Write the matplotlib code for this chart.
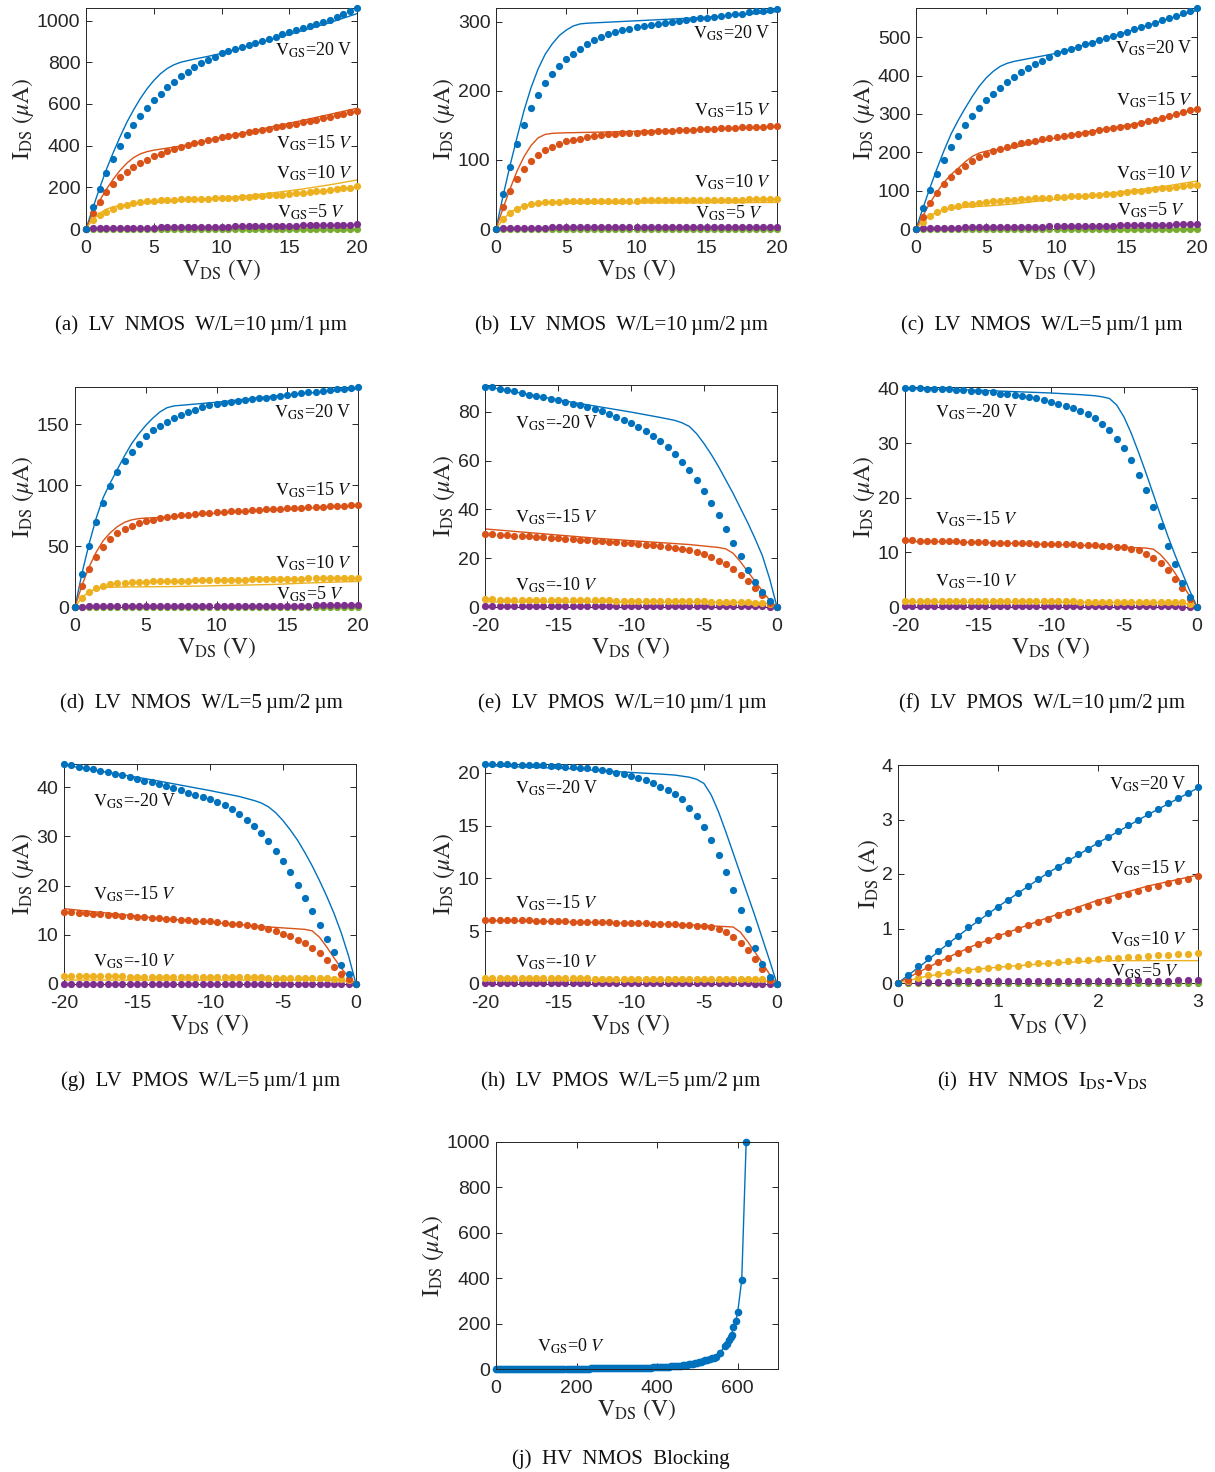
import numpy as np
import matplotlib
matplotlib.use("Agg")
import matplotlib.pyplot as plt

plt.rcParams["font.family"] = "Liberation Sans"
plt.rcParams["mathtext.fontset"] = "stix"
plt.rcParams["axes.unicode_minus"] = False

# Colores por defecto de MATLAB
AZUL = "#0072BD"
NARANJA = "#D95319"
AMARILLO = "#EDB120"
MORADO = "#7E2F8E"
VERDE = "#77AC30"

# ---------------- barridos de VDS ----------------
vds_n = np.arange(0, 20.5, 0.5)          # NMOS LV, medidas
vds_p = np.arange(-20, 0.5, 0.5)         # PMOS LV, medidas
vds_hv = np.round(np.arange(0, 3.05, 0.1), 1)
sim_n = [0, 0.5, 1, 1.5, 2, 2.5, 3, 3.5, 4, 4.5, 5, 5.5, 6, 6.5, 7, 8, 9, 10, 12, 14, 16, 18, 20]
sim_p = [-20, -18, -16, -14, -12, -10, -8, -7, -6.5, -6, -5.5, -5, -4.5, -4, -3.5, -3, -2.5, -2, -1.5, -1, -0.5, 0]
sim_hv = [0, 0.25, 0.5, 0.75, 1, 1.5, 2, 2.5, 3]

# ---------------- (a) LV NMOS 10/1 ----------------
a_med_20 = [0, 105, 192, 268, 335, 396, 449, 498, 541, 580, 617, 649, 679, 706, 732, 754, 776, 794, 812, 827, 843,
            853, 863, 873, 883, 893, 903, 913, 923, 933, 943, 953, 963, 973, 983, 993, 1003, 1016, 1030, 1044, 1058]
a_med_15 = [0, 77, 128, 176, 217, 248, 273, 296, 316, 332, 348, 361, 372, 383, 395, 403, 411, 418, 426, 433, 440,
            446, 452, 458, 464, 470, 476, 482, 488, 494, 500, 506, 512, 518, 524, 531, 538, 545, 552, 559, 567]
a_med_10 = [0, 42, 65, 83, 96, 108, 116, 123, 128, 132, 136, 138, 140, 141, 142, 143, 144, 145, 146, 147, 148,
            150, 151, 153, 155, 157, 159, 161, 163, 165, 168, 171, 174, 177, 180, 183, 187, 191, 195, 199, 204]
a_med_5 = [0, 3, 4, 5, 5, 6, 6, 6, 7, 7, 7, 8, 8, 8, 9, 9, 9, 10, 10, 10, 11,
           11, 12, 12, 13, 13, 14, 14, 15, 15, 16, 16, 17, 17, 18, 18, 19, 20, 20, 21, 22]
a_med_0 = [0.0] * 41
a_sim_20 = [0, 100, 195, 285, 365, 440, 510, 570, 625, 672, 712, 745, 770, 788, 800, 815, 828, 842, 878, 915, 952, 990, 1033]
a_sim_15 = [0, 75, 135, 190, 238, 280, 315, 342, 360, 371, 378, 383, 388, 393, 398, 410, 425, 440, 466, 494, 521, 550, 579]
a_sim_10 = [0, 45, 75, 95, 106, 113, 117, 120, 123, 125, 127, 129, 131, 133, 135, 139, 143, 148, 160, 175, 192, 212, 235]

# ---------------- (b) LV NMOS 10/2 ----------------
b_med_20 = [0, 50, 90, 123, 151, 175, 194, 211, 224, 236, 246, 254, 261, 268, 274, 278, 282, 285, 288, 290, 293,
            294.5, 296, 297, 298.5, 300, 301, 302, 303.5, 305, 306, 307, 308.5, 310, 311, 312, 313.5, 315, 316, 317.5, 319]
b_med_15 = [0, 32, 55, 73, 87, 98, 107, 114, 119, 123, 127, 129, 131, 133, 134, 136, 137, 137.7, 138.3, 139, 139.5,
            140, 140.6, 141.2, 141.8, 142.3, 142.8, 143.3, 143.8, 144.3, 144.8, 145.3, 145.8, 146.3, 146.8, 147.2,
            147.6, 148, 148.4, 148.8, 149.2]
b_med_10 = [0, 14, 23, 29, 33, 36, 37.5, 38.5, 39.5, 39.8, 40, 40.2, 40.4, 40.5, 40.6, 40.7, 40.8, 40.9, 41, 41.1,
            41.2, 41.3, 41.4, 41.5, 41.6, 41.7, 41.8, 41.9, 42, 42.1, 42.2, 42.3, 42.4, 42.5, 42.6, 42.7, 42.8,
            42.9, 43, 43.1, 43.2]
b_med_5 = [0, 1.5, 1.8, 2.0, 2.0, 2.1, 2.1, 2.1, 2.2, 2.2, 2.2, 2.2, 2.3, 2.3, 2.3, 2.3, 2.3, 2.4, 2.4, 2.4, 2.4,
           2.4, 2.5, 2.5, 2.5, 2.5, 2.5, 2.6, 2.6, 2.6, 2.6, 2.6, 2.7, 2.7, 2.7, 2.7, 2.7, 2.8, 2.8, 2.8, 2.8]
b_med_0 = [0.0] * 41
b_sim_20 = [0, 48, 92, 133, 172, 205, 232, 253, 268, 280, 288, 294, 297, 298, 298.5, 299.5, 300.5, 301.5, 303.5, 305.5, 308, 311, 315]
b_sim_15 = [0, 30, 58, 84, 105, 121, 132, 137, 138.5, 139, 139.3, 139.5, 139.7, 139.9, 140.1, 140.5, 141, 141.5, 142.5, 143.7, 145, 146.5, 148]
b_sim_10 = [0, 14, 24, 30, 33.5, 35.5, 36.5, 37, 37.2, 37.3, 37.4, 37.4, 37.5, 37.5, 37.5, 37.6, 37.7, 37.8, 37.9, 38.0, 38.2, 38.3, 38.5]

# ---------------- (c) LV NMOS 5/1 ----------------
c_med_20 = [0, 55, 102, 144, 180, 214, 243, 270, 294, 316, 336, 352, 368, 383, 397, 409, 420, 429, 439, 448, 458,
            464, 470, 475, 481, 486, 492, 497, 503, 509, 514, 520, 526, 532, 538, 544, 550, 556, 562, 569, 576]
c_med_15 = [0, 32, 68, 93, 116, 135, 151, 165, 176, 187, 195, 202, 208, 214, 219, 223, 227, 230, 234, 236, 239,
            242, 245, 248, 251, 254, 257, 260, 263, 265, 268, 272, 276, 281, 285, 290, 295, 299, 304, 309, 314]
c_med_10 = [0, 19, 35, 44, 51, 57, 60, 64, 66, 69, 71, 72, 73.5, 75, 76, 77, 78.5, 79.5, 80.5, 81.5, 83,
            84, 85, 86, 87, 88, 89, 90.5, 92, 94, 96, 98, 100, 102, 104, 106, 108, 110, 112, 113.5, 115]
c_med_5 = [0, 2, 2.5, 3, 3, 3.5, 3.5, 4, 4, 4.5, 4.5, 5, 5, 5.5, 5.5, 6, 6, 6.5, 6.5, 7, 7,
           7.5, 7.5, 8, 8, 8.5, 8.5, 9, 9, 9.5, 9.5, 10, 10, 10.5, 10.5, 11, 11.5, 12, 12, 12.5, 13]
c_med_0 = [0.0] * 41
c_sim_20 = [0, 55, 108, 158, 205, 248, 283, 315, 345, 372, 394, 411, 424, 432, 437, 444, 451, 458, 480, 502, 525, 548, 570]
c_sim_15 = [0, 35, 68, 97, 122, 142, 158, 175, 189, 198, 203, 206, 208, 210, 212.5, 221, 229.5, 238, 252, 264, 277, 293, 313]
c_sim_10 = [0, 20, 35, 44, 50, 53, 55, 56.5, 58, 59, 60, 61, 62.5, 64, 65.5, 70, 74, 78, 86, 94, 103, 113, 125]

# ---------------- (d) LV NMOS 5/2 ----------------
d_med_20 = [0, 27, 50, 69.5, 85.5, 99, 110.5, 120, 127.5, 134, 140, 145, 148.6, 152, 155, 157.7, 160, 162, 164, 165.4,
            166.8, 167.6, 168.3, 169, 169.7, 170.4, 171.1, 171.8, 172.5, 173.2, 173.9, 174.6, 175.3, 176, 176.7,
            177.4, 178, 178.6, 179.2, 179.7, 180.2]
d_med_15 = [0, 17.3, 30.8, 41.2, 49.5, 55.8, 60.7, 64.3, 66.8, 68.7, 70.3, 71.7, 72.8, 73.6, 74.5, 75.2, 75.8, 76.3,
            76.8, 77.2, 77.6, 78, 78.4, 78.8, 79.1, 79.4, 79.7, 80, 80.3, 80.6, 80.9, 81.2, 81.5, 81.7, 82, 82.3,
            82.5, 82.8, 83, 83.3, 83.5]
d_med_10 = [0, 7, 12.4, 15.7, 17.6, 18.7, 19.5, 20, 20.3, 20.6, 20.8, 21, 21.2, 21.3, 21.5, 21.6, 21.7, 21.8, 21.9,
            22, 22.1, 22.2, 22.3, 22.4, 22.5, 22.6, 22.7, 22.8, 22.9, 23, 23.1, 23.2, 23.3, 23.4, 23.5, 23.55, 23.6,
            23.7, 23.75, 23.8, 23.9]
d_med_5 = [0, 0.4, 0.5, 0.6, 0.6, 0.7, 0.7, 0.7, 0.8, 0.8, 0.8, 0.8, 0.9, 0.9, 0.9, 0.9, 0.9, 1.0, 1.0, 1.0, 1.0,
           1.0, 1.0, 1.1, 1.1, 1.1, 1.1, 1.1, 1.1, 1.2, 1.2, 1.2, 1.2, 1.2, 1.3, 1.3, 1.3, 1.3, 1.4, 1.4, 1.4]
d_med_0 = [0.0] * 41
d_sim_20 = [0, 28, 52, 73, 90, 102, 113, 124, 134, 142, 149, 155, 160, 163.5, 165, 166, 167, 168, 170.5, 173, 175, 177, 179]
d_sim_15 = [0, 18, 33, 45, 54.5, 61, 66, 69.5, 71.5, 72.5, 73, 73.2, 73.5, 73.8, 74.1, 75, 76, 77, 78.3, 79.5, 80.8, 82, 83]
d_sim_10 = [0, 8, 12.5, 15, 16, 16.2, 16.3, 16.4, 16.5, 16.5, 16.6, 16.6, 16.7, 16.7, 16.8, 17, 17.2, 17.5, 18, 18.5, 19.5, 20.3, 21]

# ---------------- (e) LV PMOS 10/1 ----------------
e_med_20 = [90.3, 90, 89.5, 88.9, 88.4, 87.8, 87.1, 86.6, 85.9, 85.2, 84.7, 84, 83.3, 82.6, 81.9, 81.1, 80.2, 79.2,
            78, 76.7, 75.5, 73.9, 72.1, 70.2, 68, 65.5, 62.8, 59.6, 56.1, 52, 47.6, 42.8, 37.6, 32.1, 26.4, 20.8,
            15.3, 10.1, 6, 2.3, 0]
e_med_15 = [30.1, 29.9, 29.7, 29.5, 29.3, 29.1, 28.9, 28.7, 28.5, 28.3, 28.1, 27.9, 27.7, 27.5, 27.3, 27.1, 26.9,
            26.7, 26.5, 26.3, 26.1, 25.9, 25.6, 25.3, 25.0, 24.7, 24.3, 23.9, 23.4, 22.6, 21.6, 20.5, 19.0, 17.5,
            15.6, 13.3, 10.7, 7.8, 4.8, 1.6, 0]
e_med_10 = [3.1, 3.1, 3.05, 3.05, 3.0, 3.0, 2.95, 2.95, 2.9, 2.9, 2.85, 2.85, 2.8, 2.8, 2.75, 2.75, 2.7, 2.7, 2.65,
            2.65, 2.6, 2.6, 2.55, 2.55, 2.5, 2.5, 2.45, 2.4, 2.4, 2.35, 2.3, 2.25, 2.2, 2.15, 2.1, 2.0, 1.9, 1.8,
            1.6, 1.2, 0]
e_med_5 = [0.32, 0.32, 0.32, 0.32, 0.32, 0.31, 0.31, 0.31, 0.31, 0.31, 0.31, 0.31, 0.3, 0.3, 0.3, 0.3, 0.3, 0.3,
           0.3, 0.3, 0.3, 0.3, 0.29, 0.29, 0.29, 0.29, 0.29, 0.29, 0.29, 0.29, 0.28, 0.28, 0.28, 0.28, 0.28, 0.28,
           0.27, 0.27, 0.26, 0.2, 0]
e_sim_20 = [90.5, 88.2, 86, 83.9, 81.9, 79.9, 77.7, 76.5, 75.5, 74, 71, 67, 62.5, 57.5, 52, 46.5, 40.5, 34.5, 28, 21, 11.5, 0]
e_sim_15 = [32, 31, 30, 29, 28, 27.2, 26.4, 26, 25.8, 25.6, 25.3, 25, 24.7, 24.4, 23.8, 22, 18.5, 14.5, 10.5, 6.5, 2.8, 0]
e_sim_10 = [2.1, 2.1, 2.1, 2.05, 2.05, 2.0, 2.0, 2.0, 2.0, 2.0, 1.95, 1.95, 1.95, 1.95, 1.9, 1.9, 1.9, 1.85, 1.8, 1.7, 1.3, 0]

# ---------------- (f) LV PMOS 10/2 ----------------
f_med_20 = [40.1, 40.1, 40.05, 40.0, 39.95, 39.9, 39.85, 39.8, 39.7, 39.6, 39.5, 39.4, 39.3, 39.1, 39.0, 38.8, 38.6,
            38.4, 38.2, 37.9, 37.6, 37.2, 36.8, 36.5, 35.9, 35.4, 34.6, 33.6, 32.5, 30.8, 29.1, 26.9, 24.2, 21.5,
            18.3, 14.8, 11.1, 7.8, 4.4, 1.8, 0]
f_med_15 = [12.2, 12.2, 12.15, 12.1, 12.1, 12.05, 12.0, 12.0, 11.95, 11.9, 11.9, 11.85, 11.8, 11.8, 11.75, 11.7,
            11.7, 11.65, 11.6, 11.6, 11.55, 11.5, 11.5, 11.45, 11.4, 11.35, 11.3, 11.2, 11.1, 11.0, 10.9, 10.7,
            10.4, 9.8, 9.0, 8.0, 6.7, 5.2, 3.4, 1.5, 0]
f_med_10 = [1.05, 1.05, 1.05, 1.05, 1.05, 1.04, 1.04, 1.04, 1.04, 1.04, 1.03, 1.03, 1.03, 1.03, 1.03, 1.02, 1.02,
            1.02, 1.02, 1.02, 1.01, 1.01, 1.01, 1.01, 1.0, 1.0, 1.0, 1.0, 1.0, 0.99, 0.99, 0.99, 0.98, 0.98, 0.97,
            0.96, 0.95, 0.93, 0.9, 0.6, 0]
f_med_5 = [0.12, 0.12, 0.12, 0.12, 0.12, 0.12, 0.12, 0.12, 0.12, 0.12, 0.11, 0.11, 0.11, 0.11, 0.11, 0.11, 0.11,
           0.11, 0.11, 0.11, 0.11, 0.11, 0.11, 0.11, 0.11, 0.1, 0.1, 0.1, 0.1, 0.1, 0.1, 0.1, 0.1, 0.1, 0.1, 0.1,
           0.1, 0.1, 0.09, 0.07, 0]
f_sim_20 = [40.0, 39.9, 39.8, 39.6, 39.4, 39.2, 38.9, 38.7, 38.5, 38.2, 37.0, 34.8, 31.8, 28.3, 24.6, 20.7, 16.8, 13.0, 9.5, 6.2, 3.0, 0]
f_sim_15 = [12.0, 11.95, 11.85, 11.75, 11.6, 11.45, 11.3, 11.2, 11.15, 11.1, 11.0, 10.95, 10.9, 10.85, 10.8, 10.6, 9.6, 8.1, 6.2, 4.1, 2.0, 0]
f_sim_10 = [0.85, 0.85, 0.85, 0.84, 0.84, 0.84, 0.83, 0.83, 0.83, 0.83, 0.82, 0.82, 0.82, 0.82, 0.82, 0.81, 0.81, 0.8, 0.78, 0.72, 0.5, 0]

# ---------------- (g) LV PMOS 5/1 ----------------
g_med_20 = [44.7, 44.4, 44.1, 43.8, 43.6, 43.3, 43.0, 42.7, 42.4, 42.0, 41.7, 41.3, 41.0, 40.7, 40.3, 39.8, 39.4,
            38.9, 38.4, 38.0, 37.6, 36.9, 36.3, 35.5, 34.5, 33.4, 32.1, 30.6, 29.0, 27.1, 25.0, 22.7, 20.2, 17.5,
            14.8, 11.9, 9.2, 6.5, 3.9, 2.0, 0]
g_med_15 = [14.7, 14.6, 14.5, 14.4, 14.3, 14.2, 14.1, 14.0, 13.9, 13.8, 13.7, 13.6, 13.5, 13.4, 13.3, 13.2, 13.1,
            13.0, 12.9, 12.8, 12.7, 12.55, 12.4, 12.25, 12.1, 11.95, 11.8, 11.6, 11.2, 10.7, 10.2, 9.7, 8.9, 8.3,
            7.3, 6.2, 4.8, 3.5, 2.1, 1.1, 0]
g_med_10 = [1.6, 1.6, 1.6, 1.58, 1.58, 1.56, 1.56, 1.54, 1.54, 1.52, 1.52, 1.5, 1.5, 1.48, 1.48, 1.46, 1.46, 1.44,
            1.44, 1.42, 1.42, 1.4, 1.4, 1.38, 1.38, 1.36, 1.36, 1.34, 1.32, 1.3, 1.28, 1.26, 1.24, 1.22, 1.2,
            1.17, 1.14, 1.1, 1.05, 0.9, 0]
g_med_5 = [0.1, 0.1, 0.1, 0.1, 0.1, 0.1, 0.1, 0.1, 0.1, 0.1, 0.1, 0.1, 0.1, 0.1, 0.1, 0.1, 0.1, 0.1, 0.1, 0.1,
           0.1, 0.1, 0.1, 0.1, 0.1, 0.1, 0.1, 0.1, 0.1, 0.1, 0.1, 0.1, 0.1, 0.1, 0.1, 0.1, 0.1, 0.09, 0.09, 0.07, 0]
g_sim_20 = [44.5, 43.5, 42.5, 41.5, 40.4, 39.3, 38.1, 37.3, 36.8, 36.0, 34.8, 33.2, 31.3, 29.2, 26.7, 24.0, 21.0, 17.8, 14.3, 10.3, 5.6, 0]
g_sim_15 = [15.3, 14.7, 14.1, 13.5, 13.0, 12.5, 12.1, 11.8, 11.7, 11.6, 11.5, 11.4, 11.3, 11.2, 11.1, 10.8, 9.5, 7.5, 5.3, 3.2, 1.4, 0]
g_sim_10 = [0.8, 0.8, 0.8, 0.8, 0.8, 0.8, 0.8, 0.8, 0.8, 0.8, 0.8, 0.8, 0.8, 0.8, 0.8, 0.78, 0.76, 0.74, 0.7, 0.62, 0.45, 0]

# ---------------- (h) LV PMOS 5/2 ----------------
h_med_20 = [20.85, 20.85, 20.83, 20.82, 20.8, 20.8, 20.78, 20.75, 20.72, 20.7, 20.65, 20.6, 20.55, 20.5, 20.45,
            20.35, 20.25, 20.15, 20.0, 19.9, 19.7, 19.5, 19.3, 19.05, 18.7, 18.4, 18.0, 17.5, 16.7, 15.9, 14.9,
            13.6, 12.2, 10.6, 8.9, 7.0, 5.2, 3.45, 1.9, 0.7, 0]
h_med_15 = [6.1, 6.1, 6.08, 6.07, 6.05, 6.04, 6.02, 6.0, 5.99, 5.97, 5.95, 5.94, 5.92, 5.9, 5.89, 5.87, 5.85, 5.84,
            5.82, 5.8, 5.78, 5.76, 5.74, 5.72, 5.7, 5.67, 5.64, 5.61, 5.58, 5.54, 5.5, 5.4, 5.2, 4.9, 4.5, 3.9,
            3.2, 2.4, 1.4, 0.4, 0]
h_med_10 = [0.55, 0.55, 0.55, 0.55, 0.55, 0.54, 0.54, 0.54, 0.54, 0.54, 0.53, 0.53, 0.53, 0.53, 0.53, 0.52, 0.52,
            0.52, 0.52, 0.52, 0.51, 0.51, 0.51, 0.51, 0.51, 0.5, 0.5, 0.5, 0.5, 0.5, 0.49, 0.49, 0.49, 0.49, 0.48,
            0.48, 0.47, 0.46, 0.45, 0.42, 0]
h_med_5 = [0.05, 0.05, 0.05, 0.05, 0.05, 0.05, 0.05, 0.05, 0.05, 0.05, 0.05, 0.05, 0.05, 0.05, 0.05, 0.05, 0.05,
           0.05, 0.05, 0.05, 0.05, 0.05, 0.05, 0.05, 0.05, 0.05, 0.05, 0.05, 0.05, 0.05, 0.05, 0.05, 0.05, 0.05,
           0.05, 0.05, 0.05, 0.04, 0.04, 0.03, 0]
h_sim_20 = [20.7, 20.6, 20.5, 20.4, 20.2, 20.05, 19.9, 19.8, 19.7, 19.6, 19.4, 19.0, 17.9, 16.3, 14.4, 12.4, 10.4, 8.4, 6.4, 4.3, 2.2, 0]
h_sim_15 = [6.0, 5.97, 5.93, 5.88, 5.82, 5.75, 5.68, 5.64, 5.62, 5.6, 5.57, 5.54, 5.5, 5.47, 5.44, 5.4, 4.9, 4.0, 3.0, 2.0, 0.9, 0]
h_sim_10 = [0.35, 0.35, 0.35, 0.35, 0.35, 0.35, 0.35, 0.35, 0.35, 0.35, 0.35, 0.35, 0.35, 0.35, 0.35, 0.34, 0.34, 0.33, 0.32, 0.3, 0.22, 0]

# ---------------- (i) HV NMOS IDS-VDS (A) ----------------
i_med_20 = [0, 0.15, 0.32, 0.45, 0.59, 0.73, 0.87, 1.02, 1.15, 1.28, 1.40, 1.53, 1.66, 1.78, 1.90, 2.02, 2.13,
            2.25, 2.36, 2.46, 2.56, 2.67, 2.79, 2.89, 2.99, 3.10, 3.19, 3.30, 3.40, 3.49, 3.59]
i_med_15 = [0, 0.06, 0.2, 0.29, 0.39, 0.46, 0.55, 0.63, 0.71, 0.78, 0.855, 0.92, 0.99, 1.06, 1.12, 1.18, 1.25,
            1.30, 1.36, 1.42, 1.49, 1.53, 1.59, 1.63, 1.69, 1.75, 1.78, 1.83, 1.87, 1.91, 1.97]
i_med_10 = [0, 0.04, 0.1, 0.15, 0.17, 0.2, 0.23, 0.24, 0.26, 0.27, 0.29, 0.31, 0.32, 0.35, 0.36, 0.37, 0.39, 0.41,
            0.42, 0.43, 0.44, 0.45, 0.46, 0.47, 0.48, 0.49, 0.51, 0.52, 0.53, 0.54, 0.55]
i_med_5 = [0, 0.01, 0.02, 0.02, 0.02, 0.02, 0.03, 0.03, 0.02, 0.03, 0.03, 0.03, 0.03, 0.04, 0.03, 0.03, 0.03, 0.04,
           0.04, 0.04, 0.04, 0.03, 0.04, 0.04, 0.05, 0.04, 0.04, 0.04, 0.05, 0.05, 0.05]
i_med_0 = [0.0] * 31
i_sim_20 = [0, 0.35, 0.72, 1.07, 1.40, 2.02, 2.57, 3.09, 3.58]
i_sim_15 = [0, 0.24, 0.47, 0.68, 0.86, 1.2, 1.52, 1.78, 1.98]
i_sim_10 = [0, 0.11, 0.19, 0.25, 0.29, 0.36, 0.41, 0.41, 0.41]

# ---------------- (j) HV NMOS bloqueo ----------------
j_vds = list(range(0, 541, 5)) + [545, 555, 568, 573, 578, 583, 585, 589, 595, 600, 610, 621]
j_ids = [0, 0.2, 0.3, 0.4, 0.5, 0.55, 0.6, 0.65, 0.7, 0.75,
         0.8, 0.85, 0.9, 0.95, 1.0, 1.0, 1.0, 1.05, 1.1, 1.15,
         1.2, 1.2, 1.2, 1.25, 1.3, 1.35, 1.4, 1.4, 1.4, 1.45,
         1.5, 1.55, 1.6, 1.6, 1.6, 1.65, 1.7, 1.75, 1.8, 1.85,
         1.9, 1.95, 2.0, 2.05, 2.1, 2.15, 2.2, 2.25, 2.3, 2.35,
         2.4, 2.45, 2.5, 2.6, 2.7, 2.75, 2.8, 2.9, 3.0, 3.1,
         3.2, 3.3, 3.4, 3.5, 3.6, 3.75, 3.9, 4.05, 4.2, 4.35,
         4.5, 4.7, 4.9, 5.1, 5.3, 5.6, 6.0, 6.4, 6.8, 7.2,
         7.6, 8.0, 8.5, 9.0, 9.5, 10.1, 10.7, 11.3, 12.0, 12.7,
         13.5, 14.3, 15.2, 16.3, 17.5, 19.0, 20.5, 22.2, 24.0, 26.0,
         28.0, 30.2, 32.5, 35.0, 37.5, 40.5, 43.5, 46.7, 50.0,
         52, 70, 100, 110, 128, 140, 150, 185, 211, 250, 394, 1000]

# ---------------- figura ----------------
W, H = 1215, 1472
fig = plt.figure(figsize=(W / 100, H / 100), dpi=100)
SERIF = "Liberation Serif"
GRIS = "#262626"


def nuevo_eje(izq, arriba, der, abajo):
    ax = fig.add_axes([izq / W, 1 - abajo / H, (der - izq) / W, (abajo - arriba) / H])
    ax.tick_params(direction="in", top=True, right=True, length=4, width=0.7,
                   labelsize=14, colors=GRIS)
    ax.tick_params(axis="x", pad=8)
    ax.tick_params(axis="y", pad=4)
    for s in ax.spines.values():
        s.set_color(GRIS)
        s.set_linewidth(0.7)
    return ax


def texto(px, py, s, ha="left", size=13):
    fig.text(px / W, 1 - py / H, s, ha=ha, va="center", fontsize=size, family=SERIF, color="#111111")


def panel(ax, x_sim, sims, x_med, meds):
    colores = [AZUL, NARANJA, AMARILLO]
    for y, c in zip(sims, colores):
        ax.plot(x_sim, y, color=c, lw=1.0)
    colores_med = [AZUL, NARANJA, AMARILLO, MORADO, VERDE]
    for y, c in reversed(list(zip(meds, colores_med))):
        ax.plot(x_med, y, "o", color=c, ms=5.2, mew=0, clip_on=False, zorder=3)


def etiquetas(ax, ylab=r"$\mathrm{I_{DS}}\ (\mu\mathrm{A})$"):
    ax.set_xlabel(r"$\mathrm{V_{DS}}\ (\mathrm{V})$", fontsize=17, color=GRIS, labelpad=0)
    ax.set_ylabel(ylab, fontsize=17, color=GRIS, labelpad=0.5)


V20 = r"$\mathrm{V_{GS}}$=20 V"
V15 = r"$\mathrm{V_{GS}}$=15 $V$"
V10 = r"$\mathrm{V_{GS}}$=10 $V$"
V5 = r"$\mathrm{V_{GS}}$=5 $V$"
P20 = r"$\mathrm{V_{GS}}$=-20 V"
P15 = r"$\mathrm{V_{GS}}$=-15 $V$"
P10 = r"$\mathrm{V_{GS}}$=-10 $V$"

# (a)
ax = nuevo_eje(86, 8, 357, 229)
panel(ax, sim_n, [a_sim_20, a_sim_15, a_sim_10], vds_n, [a_med_20, a_med_15, a_med_10, a_med_5, a_med_0])
ax.set_xlim(0, 20); ax.set_ylim(0, 1060)
ax.set_xticks([0, 5, 10, 15, 20]); ax.set_yticks([0, 200, 400, 600, 800, 1000])
etiquetas(ax)
texto(353, 50, V20, "right"); texto(353, 143, V15, "right")
texto(353, 173, V10, "right"); texto(345, 212, V5, "right")

# (b)
ax = nuevo_eje(496, 8, 777, 229)
panel(ax, sim_n, [b_sim_20, b_sim_15, b_sim_10], vds_n, [b_med_20, b_med_15, b_med_10, b_med_5, b_med_0])
ax.set_xlim(0, 20); ax.set_ylim(0, 320)
ax.set_xticks([0, 5, 10, 15, 20]); ax.set_yticks([0, 100, 200, 300])
etiquetas(ax)
texto(771, 33, V20, "right"); texto(771, 110, V15, "right")
texto(771, 182, V10, "right"); texto(763, 213, V5, "right")

# (c)
ax = nuevo_eje(916, 8, 1197, 229)
panel(ax, sim_n, [c_sim_20, c_sim_15, c_sim_10], vds_n, [c_med_20, c_med_15, c_med_10, c_med_5, c_med_0])
ax.set_xlim(0, 20); ax.set_ylim(0, 576)
ax.set_xticks([0, 5, 10, 15, 20]); ax.set_yticks([0, 100, 200, 300, 400, 500])
etiquetas(ax)
texto(1193, 48, V20, "right"); texto(1193, 100, V15, "right")
texto(1193, 173, V10, "right"); texto(1185, 210, V5, "right")

# (d)
ax = nuevo_eje(75, 387, 358, 607)
panel(ax, sim_n, [d_sim_20, d_sim_15, d_sim_10], vds_n, [d_med_20, d_med_15, d_med_10, d_med_5, d_med_0])
ax.set_xlim(0, 20); ax.set_ylim(0, 180.5)
ax.set_xticks([0, 5, 10, 15, 20]); ax.set_yticks([0, 50, 100, 150])
etiquetas(ax)
texto(352, 412, V20, "right"); texto(352, 490, V15, "right")
texto(352, 563, V10, "right"); texto(344, 594, V5, "right")

# (e)
ax = nuevo_eje(485, 385, 777, 607)
panel(ax, sim_p, [e_sim_20, e_sim_15, e_sim_10], vds_p, [e_med_20, e_med_15, e_med_10, e_med_5])
ax.set_xlim(-20, 0); ax.set_ylim(0, 91)
ax.set_xticks([-20, -15, -10, -5, 0]); ax.set_yticks([0, 20, 40, 60, 80])
etiquetas(ax)
texto(515, 423, P20); texto(515, 517, P15); texto(515, 585, P10)

# (f)
ax = nuevo_eje(905, 387, 1197, 607)
panel(ax, sim_p, [f_sim_20, f_sim_15, f_sim_10], vds_p, [f_med_20, f_med_15, f_med_10, f_med_5])
ax.set_xlim(-20, 0); ax.set_ylim(0, 40.3)
ax.set_xticks([-20, -15, -10, -5, 0]); ax.set_yticks([0, 10, 20, 30, 40])
etiquetas(ax)
texto(935, 412, P20); texto(935, 519, P15); texto(935, 581, P10)

# (g)
ax = nuevo_eje(64, 764, 356, 984)
panel(ax, sim_p, [g_sim_20, g_sim_15, g_sim_10], vds_p, [g_med_20, g_med_15, g_med_10, g_med_5])
ax.set_xlim(-20, 0); ax.set_ylim(0, 44.7)
ax.set_xticks([-20, -15, -10, -5, 0]); ax.set_yticks([0, 10, 20, 30, 40])
etiquetas(ax)
texto(93, 801, P20); texto(93, 894, P15); texto(93, 961, P10)

# (h)
ax = nuevo_eje(485, 764, 777, 984)
panel(ax, sim_p, [h_sim_20, h_sim_15, h_sim_10], vds_p, [h_med_20, h_med_15, h_med_10, h_med_5])
ax.set_xlim(-20, 0); ax.set_ylim(0, 20.85)
ax.set_xticks([-20, -15, -10, -5, 0]); ax.set_yticks([0, 5, 10, 15, 20])
etiquetas(ax)
texto(515, 788, P20); texto(515, 903, P15); texto(515, 962, P10)

# (i)
ax = nuevo_eje(898, 765, 1198, 983)
panel(ax, sim_hv, [i_sim_20, i_sim_15, i_sim_10], vds_hv, [i_med_20, i_med_15, i_med_10, i_med_5, i_med_0])
ax.set_xlim(0, 3); ax.set_ylim(0, 4)
ax.set_xticks([0, 1, 2, 3]); ax.set_yticks([0, 1, 2, 3, 4])
etiquetas(ax, r"$\mathrm{I_{DS}}\ (\mathrm{A})$")
texto(1187, 784, V20, "right"); texto(1187, 868, V15, "right")
texto(1187, 939, V10, "right"); texto(1179, 971, V5, "right")

# (j)
ax = nuevo_eje(496, 1142, 778, 1369)
ax.plot(j_vds, j_ids, "o-", color=AZUL, ms=5.5, mew=0, lw=1.0, clip_on=False)
ax.set_xlim(0, 700); ax.set_ylim(0, 1000)
ax.set_xticks([0, 200, 400, 600]); ax.set_yticks([0, 200, 400, 600, 800, 1000])
etiquetas(ax)
texto(537, 1346, r"$\mathrm{V_{GS}}$=0 $V$")

# Subtitulos
um = "\u2009\u00b5m"
subtitulos = [
    (201, 325, "(a)  LV  NMOS  W/L=10" + um + "/1" + um),
    (621, 325, "(b)  LV  NMOS  W/L=10" + um + "/2" + um),
    (1042, 325, "(c)  LV  NMOS  W/L=5" + um + "/1" + um),
    (201, 703, "(d)  LV  NMOS  W/L=5" + um + "/2" + um),
    (622, 703, "(e)  LV  PMOS  W/L=10" + um + "/1" + um),
    (1042, 703, "(f)  LV  PMOS  W/L=10" + um + "/2" + um),
    (201, 1081, "(g)  LV  PMOS  W/L=5" + um + "/1" + um),
    (621, 1081, "(h)  LV  PMOS  W/L=5" + um + "/2" + um),
    (1042, 1081, r"(i)  HV  NMOS  $\mathrm{I_{DS}}$-$\mathrm{V_{DS}}$"),
    (621, 1459, "(j)  HV  NMOS  Blocking"),
]
for px, py, s in subtitulos:
    texto(px, py, s, "center", size=15)

fig.savefig("out.png", dpi=100)
plt.close(fig)
